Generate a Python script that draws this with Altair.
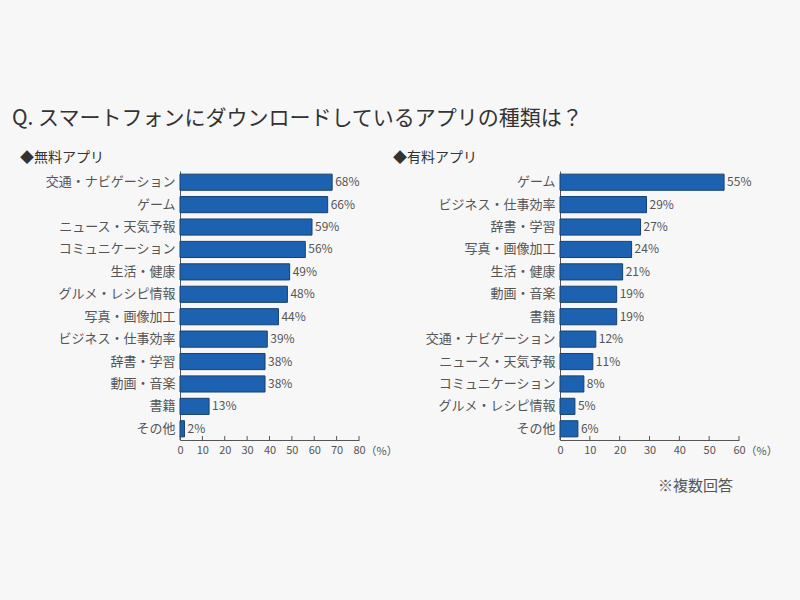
import altair as alt
import pandas as pd

title_text = "Q. スマートフォンにダウンロードしているアプリの種類は？"
free_title = "◆無料アプリ"
paid_title = "◆有料アプリ"
note_text = ["※複数回答"]

free_cats = ["交通・ナビゲーション", "ゲーム", "ニュース・天気予報", "コミュニケーション",
             "生活・健康", "グルメ・レシピ情報", "写真・画像加工", "ビジネス・仕事効率",
             "辞書・学習", "動画・音楽", "書籍", "その他"]
free_vals = [68, 66, 59, 56, 49, 48, 44, 39, 38, 38, 13, 2]

paid_cats = ["ゲーム", "ビジネス・仕事効率", "辞書・学習", "写真・画像加工", "生活・健康",
             "動画・音楽", "書籍", "交通・ナビゲーション", "ニュース・天気予報",
             "コミュニケーション", "グルメ・レシピ情報", "その他"]
paid_vals = [55, 29, 27, 24, 21, 19, 19, 12, 11, 8, 5, 6]

free_ticks = [0, 10, 20, 30, 40, 50, 60, 70, 80]
paid_ticks = [0, 10, 20, 30, 40, 50, 60]

FONT = "Noto Sans CJK JP"
W, H = 179, 269
BAR = "#1d62b0"
TXT = "#555555"


def panel(cats, vals, ticks, xmax, title, dx_title, note=None):
    df = pd.DataFrame({"cat": cats, "val": vals, "lab": [f"{v}%" for v in vals]})
    tdf = pd.DataFrame({"t": ticks})
    xscale = alt.Scale(domain=[0, xmax], nice=False)
    xaxis = alt.Axis(values=ticks, grid=False, tickSize=0, domainColor="#555555",
                     labelColor=TXT, labelFontSize=11, labelPadding=4,
                     labelOverlap=False, labelFlush=False,
                     title="（%）", titleFontSize=11, titleFontWeight="normal",
                     titleColor=TXT, titleAlign="left", titleBaseline="middle",
                     titleX=W + 6, titleY=11, titleAngle=0)
    yscale = alt.Scale(paddingInner=0.28, paddingOuter=0.14)
    yaxis = alt.Axis(title=None, ticks=False, domainColor="#555555", labelColor=TXT,
                     labelFontSize=13, labelPadding=5, labelLimit=300)
    x = alt.X("val:Q", scale=xscale, axis=xaxis)
    y = alt.Y("cat:N", sort=None, scale=yscale, axis=yaxis)
    bars = alt.Chart(df).mark_bar(color=BAR, stroke="#16406e", strokeWidth=1).encode(x=x, y=y)
    text = alt.Chart(df).mark_text(align="left", baseline="middle", dx=3, fontSize=12,
                                   color=TXT).encode(x=x, y=y, text="lab:N")
    tk = alt.Chart(tdf).mark_rule(color="#555555").encode(
        x=alt.X("t:Q", scale=xscale, axis=xaxis), y=alt.value(H - 4), y2=alt.value(H))
    layers = [bars, text, tk]
    if note is not None:
        ndf = pd.DataFrame({"n": note})
        layers.append(alt.Chart(ndf).mark_text(align="right", baseline="middle", fontSize=15,
                                               color=TXT).encode(
            text="n:N", x=alt.value(W - 6), y=alt.value(H + 46)))
    return alt.layer(*layers).properties(
        width=W, height=H,
        title=alt.TitleParams(title, anchor="start", frame="group", dx=dx_title, fontSize=14,
                              fontWeight="normal", color="#333333", offset=6))


left = panel(free_cats, free_vals, free_ticks, 80, free_title, -160)
right = panel(paid_cats, paid_vals, paid_ticks, 60, paid_title, -167, note=note_text)

chart = alt.hconcat(left, right, spacing=201, bounds="flush").resolve_scale(
    x="independent", y="independent").properties(
    title=alt.TitleParams(title_text, anchor="start", frame="group", dx=-168, fontSize=21,
                          fontWeight="normal", color="#333333", offset=22),
    autosize=alt.AutoSizeParams(type="pad"),
    padding={"left": 12, "top": 108, "right": 22, "bottom": 108},
    background="#f7f7f7",
).configure(font=FONT).configure_view(stroke=None)

chart.save("out.html", embed_options={"renderer": "svg", "actions": False})
